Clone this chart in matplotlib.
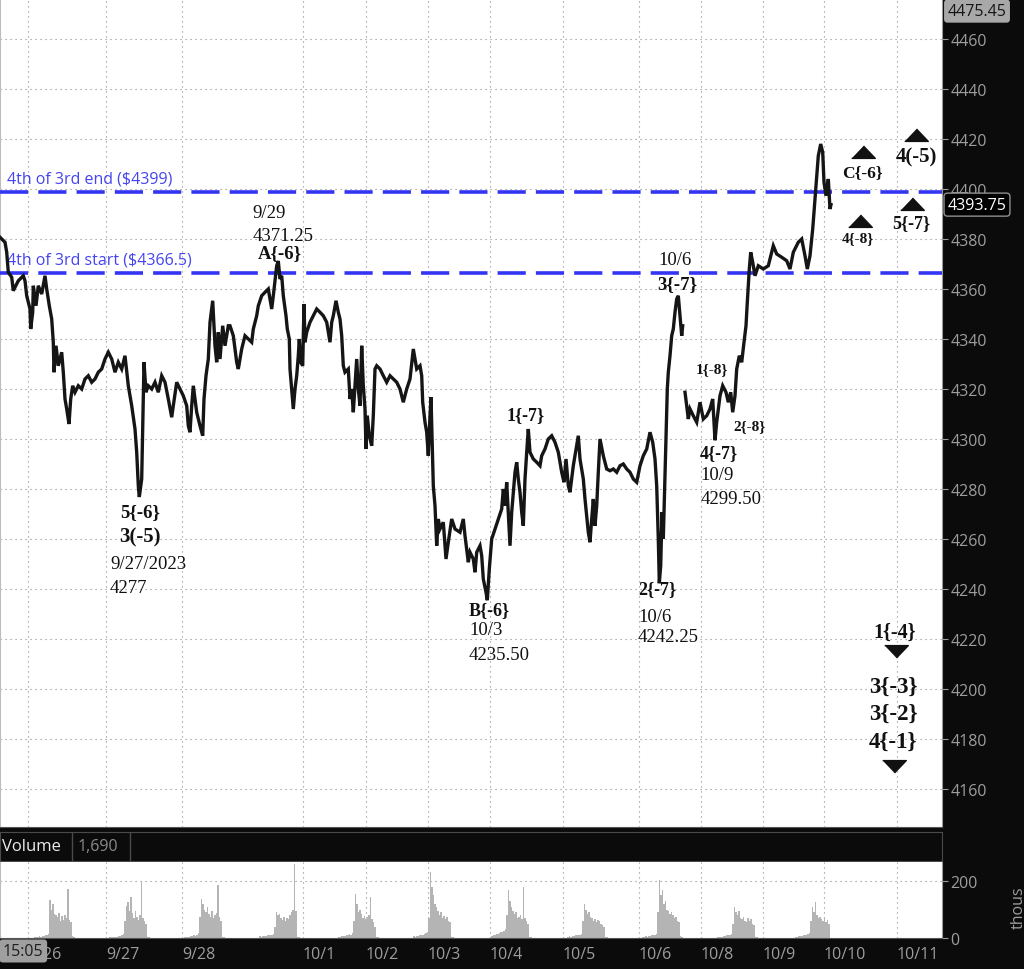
"""ES futures intraday chart with wave-count annotations (ToS style)."""
import numpy as np
import matplotlib
matplotlib.use("Agg")
import matplotlib.pyplot as plt

plt.rcParams["font.family"] = ["Open Sans", "DejaVu Sans"]

BG = "#0b0b0b"
GRID = "#8a8a8a"
AXTXT = "#9d9d9d"
BLUE = "#3434f4"
SERIF = "Liberation Serif"

# ---------------------------------------------------------------- data
# price path as (chart time, price); sessions 9/26 .. 10/6
path_a = [
    (0, 4380.7), (5, 4378.7), (6.7, 4374.7), (8.3, 4366.7), (11.7, 4364.7),
    (13.3, 4359.3), (15, 4360.7), (18.3, 4363.3), (23.3, 4365.3), (25, 4363.3),
    (26.7, 4357.3), (30, 4352), (30.7, 4344), (32.7, 4350.7), (33.3, 4361.3),
    (36, 4353.3), (38.3, 4361.3), (41.7, 4358), (45, 4365.3), (46.7, 4360),
    (49.3, 4353.3), (51.7, 4348), (53.3, 4338.7), (54, 4326.7), (56, 4337.3),
    (58.3, 4329.3), (61.7, 4334.7), (63.3, 4326.7), (65, 4316), (66.7, 4312),
    (69, 4306), (70.7, 4316), (72.7, 4321.3), (75, 4318.7), (78.3, 4321.3),
    (81.7, 4320), (85, 4324), (88.3, 4325.3), (91.7, 4322.7), (95, 4324),
    (98.3, 4326.7), (101.7, 4328), (105, 4332), (108.3, 4334.7), (111.7, 4332),
    (115, 4326.7), (118.3, 4330.7), (121.7, 4328), (125, 4333.3), (128.3, 4321.3),
    (131.7, 4313.3), (135, 4304), (136.7, 4294.7), (138.3, 4281.3), (139.3, 4276.8),
    (141.7, 4284), (144, 4330.7), (146, 4318.7), (148.3, 4321.3), (151.7, 4320),
    (155, 4322.7), (158.3, 4318.7), (161.7, 4325.3), (165, 4322.7), (168.3, 4316),
    (171.7, 4308.7), (173.3, 4313.3), (176.7, 4322.7), (180, 4320), (183.3, 4317.3),
    (186.7, 4313.3), (188.3, 4305.3), (190, 4302.7), (191.7, 4313.3), (193.3, 4321.3),
    (196.7, 4310.7), (200, 4305.3), (202.7, 4301.3), (204, 4316), (206, 4325.3),
    (208.3, 4332), (210, 4346.7), (212.7, 4355.3), (215, 4337.3), (216.7, 4330.7),
    (218.3, 4342.7), (220, 4332), (222.7, 4345.3), (225, 4337.3), (228.3, 4345.3),
    (230, 4345.3), (233.3, 4341.3), (236.7, 4330.7), (238.3, 4328), (241.7, 4336),
    (245, 4341.3), (248.3, 4340), (251.7, 4338.7), (253.3, 4344), (256.7, 4349.3),
    (258.3, 4353.3), (261.7, 4357.3), (265, 4358.7), (268.3, 4360), (271.7, 4352),
    (273.3, 4357.3), (276.7, 4369.3), (278.3, 4371.2), (280, 4364), (281.7, 4365.3),
    (283.3, 4357.3), (286, 4349.3), (287.3, 4344), (289.3, 4340), (290, 4328),
    (291.7, 4320), (293.3, 4312), (295, 4320), (296.7, 4325.3), (298.3, 4333.3),
    (299.3, 4340), (300.7, 4330.7), (302.7, 4329.3), (304, 4354), (305, 4338.7),
    (306.7, 4342.7), (310, 4346.7), (313.3, 4349.3), (316.7, 4352), (320, 4350.7),
    (323.3, 4349.3), (326.7, 4346.7), (330, 4338.7), (331.7, 4346.7), (333.3, 4349.3),
    (336, 4355.3), (338.3, 4350.7), (340, 4348), (341.7, 4341.3), (343.3, 4329.3),
    (345, 4326.7), (348.3, 4328), (350, 4316), (351.7, 4320), (353.3, 4310.7),
    (355, 4321.3), (356.7, 4332), (358.3, 4320), (360, 4313.3), (361.7, 4337.3),
    (363.3, 4321.3), (365, 4312), (366, 4296), (367.3, 4309.3), (369.3, 4301.3),
    (371.7, 4297.3), (373.3, 4309.3), (375, 4328), (376.7, 4329.3), (380, 4328),
    (383.3, 4325.3), (386.7, 4322.7), (390, 4325.3), (393.3, 4324), (396.7, 4322.7),
    (400, 4320), (403.3, 4314.7), (406.7, 4320), (410, 4324), (413.3, 4336),
    (415, 4332), (416.7, 4328), (420, 4329.3), (421.7, 4325.3), (422.7, 4314.7),
    (425, 4306.7), (426.7, 4302.7), (428.3, 4293.3), (430, 4309.3), (431, 4316.7),
    (432.3, 4296), (433.3, 4281.3), (435, 4273.3), (436.7, 4257.3), (438.3, 4268),
    (440, 4264), (443.3, 4266.7), (446, 4252), (448.3, 4258.7), (451.7, 4268),
    (455, 4264), (460, 4262.7), (463.3, 4268), (465, 4261.3), (468.3, 4250.7),
    (470, 4254.7), (473.3, 4252), (475, 4246.7), (476.7, 4254.7), (480, 4257.3),
    (481.7, 4253.3), (483.3, 4244), (486, 4238.7), (487.3, 4235.5), (489.3, 4248),
    (491.7, 4260), (495, 4264), (498.3, 4268), (501.7, 4272), (503.3, 4280),
    (505, 4273.3), (506.7, 4282.7), (510, 4257.3), (511.7, 4270.7), (515, 4286.7),
    (516.7, 4290.7), (518.3, 4284), (520, 4278.7), (521.7, 4270.7), (523.3, 4265.3),
    (525, 4284), (526.7, 4294.7), (528.3, 4304), (530, 4294.7), (533.3, 4292),
    (536.7, 4290.7), (540, 4289.3), (541.7, 4293.3), (545, 4296), (548.3, 4300),
    (551.7, 4301.3), (555, 4298.7), (558.3, 4294.7), (561.7, 4286.7), (564, 4282.7),
    (566, 4292), (568.3, 4281.3), (570, 4278.7), (573.3, 4289.3), (576.7, 4297.3),
    (578.3, 4301.3), (580, 4292), (583.3, 4284), (585, 4276), (588.3, 4262.7),
    (590, 4258.7), (591.7, 4268), (593.3, 4276), (595, 4265.3), (596.7, 4273.3),
    (598.3, 4286.7), (600, 4300), (603.3, 4293.3), (606.7, 4288), (610, 4287.3),
    (613.3, 4288), (616.7, 4286.7), (620, 4289.3), (623.3, 4290), (626.7, 4288),
    (630, 4286.7), (633.3, 4284), (636.7, 4282.7), (640, 4289.3), (643.3, 4293.3),
    (646.7, 4296), (650, 4302.7), (652.7, 4298.7), (655, 4292), (656.7, 4281.3),
    (658.3, 4260), (659.3, 4242.3), (660.7, 4249.3), (662, 4270.7), (663.3, 4260),
    (664.7, 4281.3), (666, 4300), (667.3, 4320), (668.3, 4326.7), (670, 4333.3),
    (671.7, 4341.3), (673.3, 4344), (675, 4350.7), (676.7, 4356), (678.3, 4357.3),
    (680, 4349.3), (681.7, 4341.3), (682.7, 4345.3),
]
# sessions 10/8 .. 10/10
path_b = [
    (685, 4318.7), (686.7, 4313.3), (688.3, 4308), (690, 4312), (693.3, 4309.3),
    (696.7, 4306.7), (700, 4314.7), (703.3, 4308), (706.7, 4309.3), (710, 4312),
    (712.7, 4316), (715, 4299.5), (716.7, 4306.7), (720, 4317.3), (722.7, 4321.3),
    (726, 4318.7), (728.3, 4314.7), (730.7, 4318.7), (732.7, 4310.7), (735, 4317.3),
    (736.7, 4328), (739.3, 4333.3), (741.7, 4330.7), (744, 4338.7), (746, 4345.3),
    (747.3, 4354.7), (749.3, 4368), (750.7, 4374.7), (752.7, 4370.7), (755, 4365.3),
    (758.3, 4369.3), (763.3, 4368), (768.3, 4369.3), (773.3, 4377.3), (776.7, 4374),
    (781.7, 4372.7), (786.7, 4371.3), (790, 4368), (793.3, 4374.7), (798.3, 4378.7),
    (801.7, 4380), (805, 4373.3), (807.3, 4368), (810, 4373.3), (812.7, 4384),
    (814, 4390.7), (816, 4401.3), (818.3, 4413.3), (820.7, 4418), (822.7, 4414.7),
    (824, 4402.7), (826, 4397.3), (828.3, 4404), (830, 4392), (831, 4393.75),
]
last_price = 4393.75
top_price = 4475.45

levels = [4399, 4366.5]
level_labels = ["4th of 3rd end ($4399)", "4th of 3rd start ($4366.5)"]
level_label_y = [4404.4, 4371.6]

date_ticks = [28, 106, 182, 303, 366, 428, 490, 563, 639, 701, 763, 824, 897]
date_labels = ["9/26", "9/27", "9/28", "10/1", "10/2", "10/3", "10/4", "10/5",
               "10/6", "10/8", "10/9", "10/10", "10/11"]
price_ticks = list(range(4160, 4461, 20))

# volume (thousands): start time of each session block, bars every 1.5 units
vol_start = [34, 109, 184, 259, 338, 413, 491, 567, 642, 717, 795]
vol_bars = [
    [3, 4, 4, 6, 5, 7, 8, 9, 12, 15, 132, 100, 118, 85, 80, 72, 88, 60, 76, 64, 82, 70, 173, 62, 55, 6, 3],
    [2, 3, 3, 4, 5, 5, 6, 8, 10, 14, 60, 114, 126, 95, 143, 88, 70, 96, 75, 64, 80, 196, 70, 58, 50, 5, 3],
    [4, 3, 5, 4, 6, 8, 9, 7, 12, 16, 75, 138, 120, 100, 92, 110, 85, 75, 95, 70, 80, 88, 185, 72, 60, 5, 3],
    [6, 5, 7, 6, 8, 10, 9, 12, 11, 15, 40, 91, 80, 85, 70, 62, 75, 60, 70, 65, 82, 90, 100, 261, 95, 5, 3],
    [5, 4, 6, 8, 7, 10, 12, 14, 10, 18, 60, 155, 120, 90, 100, 85, 70, 78, 65, 72, 80, 143, 68, 55, 40, 4, 2],
    [6, 5, 8, 7, 9, 10, 12, 14, 16, 20, 70, 232, 180, 150, 120, 110, 95, 80, 90, 70, 78, 65, 72, 60, 55, 5, 3],
    [8, 10, 12, 15, 14, 18, 20, 22, 25, 30, 80, 167, 130, 110, 95, 85, 90, 70, 75, 80, 65, 179, 70, 60, 50, 5, 3],
    [5, 6, 5, 8, 7, 9, 10, 12, 11, 15, 60, 120, 100, 85, 90, 75, 70, 60, 65, 55, 62, 58, 50, 45, 40, 4, 2],
    [4, 5, 6, 5, 8, 7, 10, 9, 12, 14, 90, 202, 150, 167, 120, 130, 100, 95, 85, 90, 80, 70, 75, 60, 55, 6, 3],
    [3, 4, 5, 5, 6, 8, 9, 10, 12, 15, 50, 108, 90, 80, 95, 70, 65, 75, 60, 55, 70, 60, 65, 50, 45, 5, 3],
    [4, 5, 6, 6, 8, 9, 10, 12, 14, 18, 60, 108, 90, 126, 80, 70, 75, 65, 60, 70, 55, 62, 50],
]
vol_last = "1,690"

# wave labels: text, time, price, size, bold, align
notes = [
    ("9/29", 252, 4390.8, 13.5, False, "left"),
    ("4371.25", 253, 4381.4, 13.5, False, "left"),
    ("A{-6}", 280, 4374.6, 13.5, True, "center"),
    ("5{-6}", 140, 4270.8, 13.5, True, "center"),
    ("3(-5)", 140, 4261.2, 15, True, "center"),
    ("9/27/2023", 110, 4250.4, 13.5, False, "left"),
    ("4277", 110, 4240.8, 13.5, False, "left"),
    ("1{-7}", 526, 4309.8, 13, True, "center"),
    ("B{-6}", 489, 4231.6, 13, True, "center"),
    ("10/3", 469, 4224.0, 13.5, False, "left"),
    ("4235.50", 469, 4214.0, 13.5, False, "left"),
    ("2{-7}", 657, 4240.0, 13, True, "center"),
    ("10/6", 638, 4229.2, 13.5, False, "left"),
    ("4242.25", 638, 4221.2, 13.5, False, "left"),
    ("10/6", 675.5, 4372.0, 13.5, False, "center"),
    ("3{-7}", 677, 4362.2, 13.5, True, "center"),
    ("1{-8}", 711.7, 4328.0, 11, True, "center"),
    ("2{-8}", 750, 4305.4, 11, True, "center"),
    ("4{-7}", 719, 4294.6, 13, True, "center"),
    ("10/9", 700.7, 4285.8, 13.5, False, "left"),
    ("4299.50", 700.7, 4276.2, 13.5, False, "left"),
    ("C{-6}", 862, 4406.8, 12.5, True, "center"),
    ("4(-5)", 916, 4413.2, 15, True, "center"),
    ("4{-8}", 858, 4380.4, 11, True, "center"),
    ("5{-7}", 911, 4386.4, 13, True, "center"),
    ("1{-4}", 895, 4222.8, 14.5, True, "center"),
    ("3{-3}", 893, 4201.2, 16.5, True, "center"),
    ("3{-2}", 893, 4190.4, 16.5, True, "center"),
    ("4{-1}", 893, 4179.2, 16.5, True, "center"),
]
tri_up = [(863, 4414.8), (916, 4421.6), (860, 4387.2), (912, 4394.0)]
tri_dn = [(896, 4215.2), (894, 4169.2)]

# ---------------------------------------------------------------- figure
fig = plt.figure(figsize=(10.24, 9.70), dpi=100)
fig.patch.set_facecolor(BG)
W, H = 1024.0, 970.0
dotted = (0, (1, 3.5))

# price panel
ax = fig.add_axes([0, 142 / H, 942 / W, 828 / H])
ax.set_facecolor("white")
ax.set_xlim(0, 942)
ax.set_ylim(4144.8, 4476)
for t in date_ticks:
    ax.axvline(t, color=GRID, lw=0.8, ls=dotted, zorder=1)
for p in price_ticks:
    ax.axhline(p, color=GRID, lw=0.8, ls=dotted, zorder=1)

for lvl, lab, ly in zip(levels, level_labels, level_label_y):
    ax.axhline(lvl, color=BLUE, lw=2.6, ls=(0, (7.8, 2.8)), zorder=3)
    ax.text(7, ly, lab, color="#4545f0", fontsize=11.5, ha="left", va="center",
            zorder=4)

for path in (path_a, path_b):
    t, p = zip(*path)
    ax.plot(t, p, color="#151515", lw=2.4, zorder=5, solid_joinstyle="miter")

for txt, t, p, sz, bold, ha in notes:
    ax.text(t, p, txt, fontsize=sz, family=SERIF, ha=ha, va="center",
            fontweight="bold" if bold else "normal", color="#111111", zorder=6)

up_m = [(-1, -0.5), (1, -0.5), (0, 0.55)]
dn_m = [(-1, 0.5), (1, 0.5), (0, -0.55)]
for pts, m in ((tri_up, up_m), (tri_dn, dn_m)):
    t, p = zip(*pts)
    ax.plot(t, p, ls="none", marker=m, ms=17, color="#111111", zorder=6)

ax.set_xticks([])
ax.yaxis.tick_right()
ax.set_yticks(price_ticks)
ax.tick_params(axis="y", colors=AXTXT, labelsize=11.5, length=4, pad=2)
ax.spines["top"].set_visible(False)
ax.spines["left"].set_color("#bdbdbd")
ax.spines["right"].set_color("#9a9a9a")
ax.spines["bottom"].set_color("#555555")

ax.annotate(f"{top_price:.2f}", xy=(1, 1), xycoords="axes fraction",
            xytext=(4, -3), textcoords="offset points", ha="left", va="top",
            fontsize=11.5, color="#151515", annotation_clip=False, zorder=10,
            bbox=dict(boxstyle="round,pad=0.22", fc="#a8a8a8", ec="none"))
ax.annotate(f"{last_price:.2f}", xy=(1, last_price),
            xycoords=("axes fraction", "data"), xytext=(4, 0),
            textcoords="offset points", ha="left", va="center", fontsize=11.5,
            color="white", annotation_clip=False, zorder=10,
            bbox=dict(boxstyle="round,pad=0.22", fc="black", ec="#8f8f8f"))

# volume header strip
axh = fig.add_axes([0, 108 / H, 942 / W, 29 / H])
axh.set_facecolor(BG)
axh.set_xlim(0, 942)
axh.set_ylim(0, 1)
axh.set_xticks([])
axh.set_yticks([])
for s in axh.spines.values():
    s.set_color("#4a4a4a")
axh.axvline(72, color="#4a4a4a", lw=1)
axh.axvline(130, color="#4a4a4a", lw=1)
axh.text(2, 0.5, "Volume", color="#ececec", fontsize=12, va="center")
axh.text(78, 0.5, vol_last, color="#8a8a8a", fontsize=11.5, va="center")

# volume panel
axv = fig.add_axes([0, 31 / H, 942 / W, 76 / H])
axv.set_facecolor("white")
axv.set_xlim(0, 942)
axv.set_ylim(0, 266.7)
for t in date_ticks:
    axv.axvline(t, color=GRID, lw=0.8, ls=dotted, zorder=1)
axv.axhline(200, color=GRID, lw=0.8, ls=dotted, zorder=1)
for x0, vals in zip(vol_start, vol_bars):
    xs = x0 + 1.5 * np.arange(len(vals))
    axv.bar(xs, vals, width=1.5, color="#b4b4b4", align="edge", zorder=2,
            linewidth=0)
axv.yaxis.tick_right()
axv.set_yticks([0, 200])
axv.tick_params(axis="y", colors=AXTXT, labelsize=11.5, length=4, pad=2)
axv.set_xticks(date_ticks)
axv.set_xticklabels(date_labels)
axv.tick_params(axis="x", colors=AXTXT, labelsize=11.5, length=0, pad=6)
for lbl in axv.get_xticklabels():
    lbl.set_horizontalalignment("left")
axv.spines["top"].set_visible(False)
axv.spines["left"].set_color("#bdbdbd")
axv.spines["right"].set_color("#9a9a9a")
axv.spines["bottom"].set_color("#555555")

fig.text(3 / W, 1 - 952 / H, "15:05", fontsize=11.5, color="#1e1e1e",
         ha="left", va="center",
         bbox=dict(boxstyle="round,pad=0.22", fc="#9f9f9f", ec="none"))
fig.text(1019 / W, 1 - 908 / H, "thous", fontsize=11.5, color=AXTXT,
         rotation=90, ha="center", va="center")

fig.savefig("out.png", dpi=100, facecolor=fig.get_facecolor())
